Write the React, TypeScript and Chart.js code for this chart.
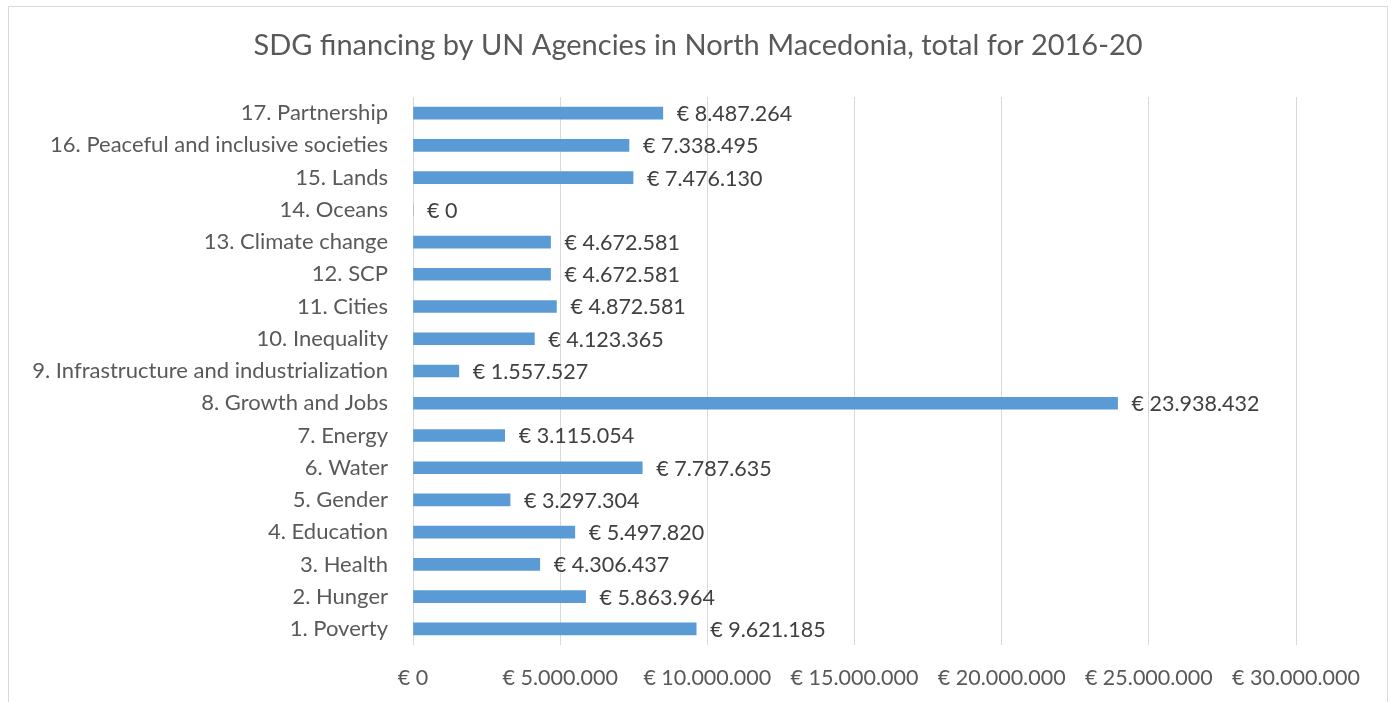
import React, { useEffect, useRef } from "react";
import { Chart, registerables } from "chart.js";

Chart.register(...registerables);

const categories: string[] = [
  "17. Partnership",
  "16. Peaceful and inclusive societies",
  "15. Lands",
  "14. Oceans",
  "13. Climate change",
  "12. SCP",
  "11. Cities",
  "10. Inequality",
  "9. Infrastructure and industrialization",
  "8. Growth and Jobs",
  "7. Energy",
  "6. Water",
  "5. Gender",
  "4. Education",
  "3. Health",
  "2. Hunger",
  "1. Poverty",
];

const financing: number[] = [
  8487264, 7338495, 7476130, 0, 4672581, 4672581, 4872581, 4123365, 1557527,
  23938432, 3115054, 7787635, 3297304, 5497820, 4306437, 5863964, 9621185,
];

const xTicks: number[] = [0, 5000000, 10000000, 15000000, 20000000, 25000000, 30000000];

const title = "SDG financing by UN Agencies in North Macedonia, total for 2016-20";

const FONT = "Lato, 'Open Sans', sans-serif";

function euro(v: number): string {
  const s = Math.round(v)
    .toString()
    .replace(/\B(?=(\d{3})+(?!\d))/g, ".");
  return "€ " + s;
}

const dataLabelPlugin = {
  id: "dataLabels",
  afterDatasetsDraw(chart: any) {
    const ctx = chart.ctx;
    const meta = chart.getDatasetMeta(0);
    const ds = chart.data.datasets[0];
    ctx.save();
    ctx.font = `21.5px ${FONT}`;
    ctx.fillStyle = "#404040";
    ctx.textAlign = "left";
    ctx.textBaseline = "middle";
    meta.data.forEach((bar: any, i: number) => {
      const v = ds.data[i] as number;
      ctx.fillText(euro(v), bar.x + 14, bar.y + 1);
    });
    ctx.restore();
  },
};

const titlePlugin = {
  id: "centeredTitle",
  afterDraw(chart: any) {
    const ctx = chart.ctx;
    ctx.save();
    ctx.font = `29px ${FONT}`;
    ctx.fillStyle = "#595959";
    ctx.textAlign = "center";
    ctx.textBaseline = "middle";
    ctx.fillText(title, 698, 46);
    ctx.restore();
  },
};

export default function App() {
  const ref = useRef<HTMLCanvasElement | null>(null);

  useEffect(() => {
    if (!ref.current) return;
    const chart = new Chart(ref.current, {
      type: "bar",
      data: {
        labels: categories,
        datasets: [
          {
            data: financing,
            backgroundColor: "#5b9bd5",
            borderWidth: 0,
            barThickness: 12,
          },
        ],
      },
      options: {
        indexAxis: "y",
        animation: false,
        responsive: false,
        maintainAspectRatio: false,
        layout: { padding: { top: 97, left: 0, right: 98, bottom: 0 } },
        plugins: {
          legend: { display: false },
          tooltip: { enabled: false },
          title: { display: false },
        },
        scales: {
          x: {
            type: "linear",
            min: 0,
            max: 30000000,
            afterBuildTicks(axis: any) {
              axis.ticks = xTicks.map((v) => ({ value: v }));
            },
            afterFit(axis: any) {
              axis.height = 57;
            },
            grid: {
              color: "#d9d9d9",
              lineWidth: 1,
              drawTicks: false,
            },
            border: { display: false },
            ticks: {
              color: "#595959",
              font: { family: FONT, size: 21.5 },
              padding: 20,
              maxRotation: 0,
              autoSkip: false,
              callback: (v: any) => euro(Number(v)),
            },
          },
          y: {
            afterFit(axis: any) {
              axis.width = 413;
            },
            grid: { display: false, drawTicks: false },
            border: { display: false },
            ticks: {
              color: "#595959",
              font: { family: FONT, size: 22 },
              padding: 25,
              autoSkip: false,
            },
          },
        },
      },
      plugins: [dataLabelPlugin, titlePlugin],
    });
    return () => chart.destroy();
  }, []);

  return (
    <div
      style={{
        position: "fixed",
        left: 0,
        top: 0,
        width: 1394,
        height: 702,
        background: "#ffffff",
        overflow: "hidden",
      }}
    >
      <div
        style={{
          position: "absolute",
          left: 8,
          top: 6,
          width: 1380,
          height: 800,
          border: "1px solid #d9d9d9",
          boxSizing: "border-box",
        }}
      />
      <canvas
        ref={ref}
        width={1394}
        height={702}
        style={{ position: "absolute", left: 0, top: 0, width: 1394, height: 702 }}
      />
    </div>
  );
}
